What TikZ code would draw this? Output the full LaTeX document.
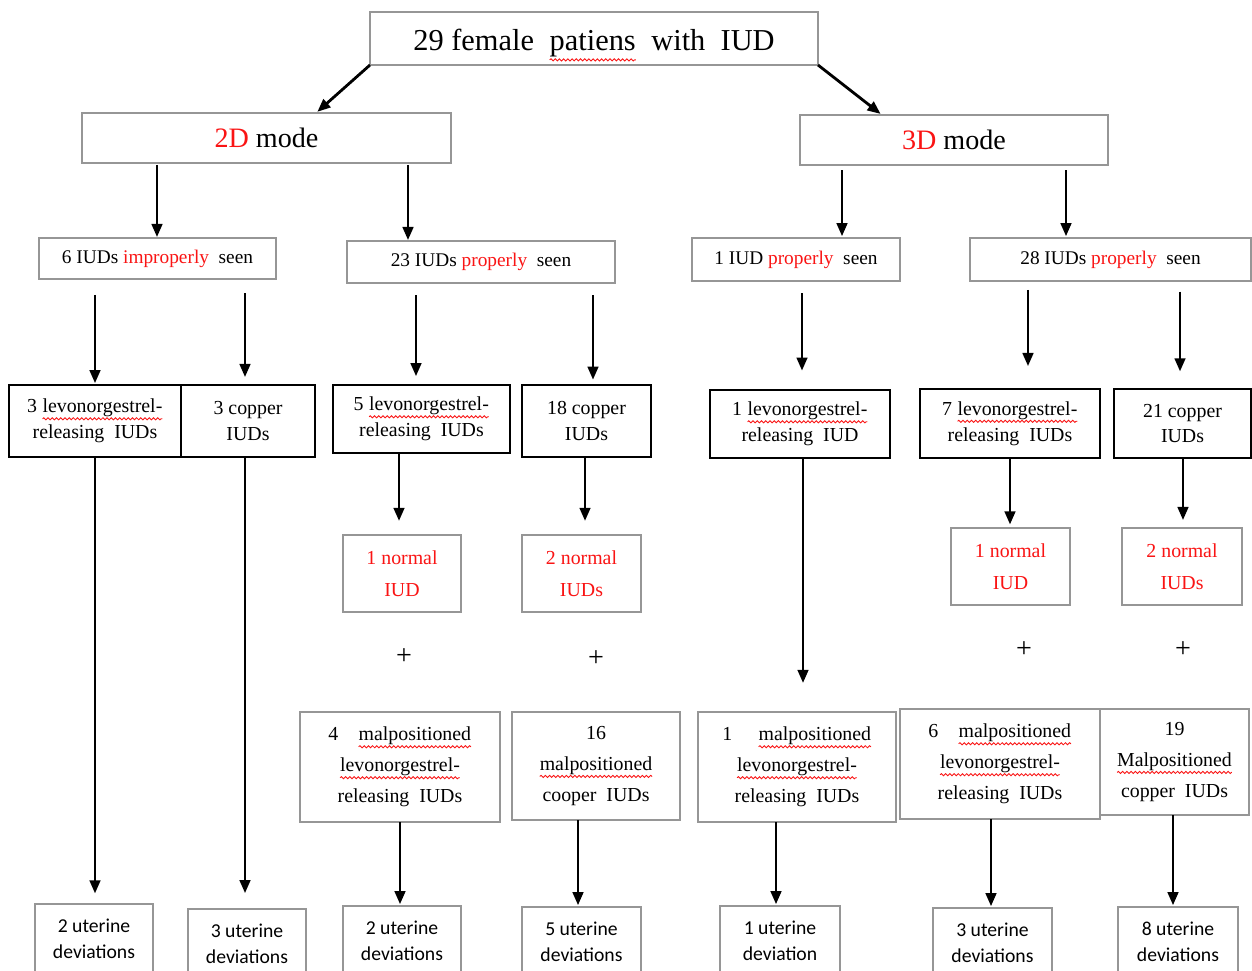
\documentclass[tikz,border=0pt]{standalone}
\usepackage{fontspec}
\setmainfont{Liberation Serif}
\newfontfamily\calfont{Carlito}
\usetikzlibrary{arrows.meta,decorations.pathmorphing}
\definecolor{bgray}{RGB}{150,150,150}
\definecolor{rd}{RGB}{250,20,20}
\newcommand\sq[1]{\tikz[baseline=(sqw.base)]{\node[inner sep=0pt,outer sep=0pt,draw=none,minimum size=0pt](sqw){#1};\draw[rd,line width=0.5pt,decorate,decoration={snake,amplitude=0.6pt,segment length=2.4pt}]([yshift=-0.3em]sqw.base west)--([yshift=-0.3em]sqw.base east);}}
\newcommand\bx[7]{\node[#6, minimum width={(#4-#2)*0.02cm}, minimum height={(#5-#3)*0.02cm}] (#1) at ({(#2+#4)/2},{(#3+#5)/2}) {#7};}
\newcommand\varr[5]{\coordinate (v#1#2) at (#3,0); \draw[arr,shorten <=#4,shorten >=#5] (#1.south -| v#1#2) -- (#2.north -| v#1#2);}
\begin{document}
\begin{tikzpicture}[x=0.02cm,y=-0.02cm,
  thinbox/.style={draw=bgray,line width=0.9pt,fill=white,inner sep=0pt,outer sep=0pt,align=center},
  thickbox/.style={draw=black,line width=1.4pt,fill=white,inner sep=0pt,outer sep=0pt,align=center},
  r2/.style={thinbox,font=\fontsize{11}{13}\selectfont},
  r3/.style={thickbox,font=\fontsize{11.3}{14.7}\selectfont},
  nrm/.style={thinbox,text=rd,font=\fontsize{11.3}{18}\selectfont},
  mal/.style={thinbox,font=\fontsize{11.3}{17.6}\selectfont},
  dev/.style={thinbox,font=\calfont\fontsize{11.2}{14.7}\selectfont},
  plus/.style={inner sep=0pt,font=\fontsize{16}{18}\selectfont},
  arr/.style={-{Triangle[width=6pt,length=7.5pt]},line width=1.6pt,black}]
\useasboundingbox (0,0) rectangle (1252,971);
\clip (0,0) rectangle (1252,971);
\fill[white] (0,0) rectangle (1252,971);
% top
\bx{top}{370}{12}{818}{65}{thinbox,font=\fontsize{17.3}{20}\selectfont,text height=0.62cm,text depth=0.13cm}{29 female\ \ \sq{patiens}\ \ with\ \ IUD}
\bx{m2}{82}{113}{451}{163}{thinbox,font=\fontsize{16}{19}\selectfont}{\textcolor{rd}{2D} mode}
\bx{m3}{800}{115}{1108}{165}{thinbox,font=\fontsize{16}{19}\selectfont}{\textcolor{rd}{3D} mode}
% row 2
\bx{r2a}{39}{238}{276}{279}{r2}{6 IUDs \textcolor{rd}{improperly}\ \ seen}
\bx{r2b}{347}{241}{615}{283}{r2}{23 IUDs \textcolor{rd}{properly}\ \ seen}
\bx{r3a}{692}{238}{900}{281}{r2}{1 IUD \textcolor{rd}{properly}\ \ seen}
\bx{r3b}{970}{238}{1251}{281}{r2}{28 IUDs \textcolor{rd}{properly}\ \ seen}
% row 3
\bx{l3a}{9}{385}{181}{457}{r3}{3 \sq{levonorgestrel-}\\releasing\ \ IUDs}
\bx{l3b}{181}{385}{315}{457}{r3}{3 copper\\IUDs}
\bx{l3c}{333}{385}{510}{453}{r3}{5 \sq{levonorgestrel-}\\releasing\ \ IUDs}
\bx{l3d}{522}{385}{651}{457}{r3}{18 copper\\IUDs}
\bx{l3e}{710}{390}{890}{458}{r3}{1 \sq{levonorgestrel-}\\releasing\ \ IUD}
\bx{l3f}{920}{389}{1100}{458}{r3}{7 \sq{levonorgestrel-}\\releasing\ \ IUDs}
\bx{l3g}{1114}{389}{1251}{458}{r3}{21 copper\\IUDs}
% normal
\bx{n1}{343}{535}{461}{612}{nrm}{1 normal\\IUD}
\bx{n2}{522}{535}{641}{612}{nrm}{2 normal\\IUDs}
\bx{n3}{951}{528}{1070}{605}{nrm}{1 normal\\IUD}
\bx{n4}{1122}{528}{1242}{605}{nrm}{2 normal\\IUDs}
% plus
\node[plus] (p1) at (404,657) {+};
\node[plus] (p2) at (596,659) {+};
\node[plus] (p3) at (1024,650) {+};
\node[plus] (p4) at (1183,650) {+};
% malpositioned
\bx{k1}{300}{712}{500}{822}{mal}{4\hspace{1em}\sq{malpositioned}\\\sq{levonorgestrel-}\\releasing\ \ IUDs}
\bx{k2}{512}{712}{680}{820}{mal}{16\\\sq{malpositioned}\\cooper\ \ IUDs}
\bx{k3}{698}{712}{896}{822}{mal}{1\hspace{1.3em}\sq{malpositioned}\\\sq{levonorgestrel-}\\releasing\ \ IUDs}
\bx{k4}{900}{709}{1100}{819}{mal}{6\hspace{1em}\sq{malpositioned}\\\sq{levonorgestrel-}\\releasing\ \ IUDs}
\bx{k5}{1100}{709}{1249}{815}{mal}{19\\\sq{Malpositioned}\\copper\ \ IUDs}
% bottom
\bx{b1}{35}{904}{153}{974}{dev}{2 uterine\\deviations}
\bx{b2}{188}{909}{306}{979}{dev}{3 uterine\\deviations}
\bx{b3}{343}{906}{461}{976}{dev}{2 uterine\\deviations}
\bx{b4}{522}{907}{641}{977}{dev}{5 uterine\\deviations}
\bx{b5}{720}{906}{840}{976}{dev}{1 uterine\\deviation}
\bx{b6}{933}{908}{1052}{978}{dev}{3 uterine\\deviations}
\bx{b7}{1118}{907}{1238}{977}{dev}{8 uterine\\deviations}
% arrows
\draw[arr,shorten >=1pt] (top.south west) -- ([xshift=0.99cm]m2.north);
\draw[arr,shorten >=1pt] (top.south east) -- ([xshift=-1.44cm]m3.north);
\varr{m2}{r2a}{157}{1pt}{0.5pt}
\varr{m2}{r2b}{408}{1pt}{0.5pt}
\varr{m3}{r3a}{842}{3pt}{1pt}
\varr{m3}{r3b}{1066}{3pt}{1pt}
\varr{r2a}{l3a}{95}{9pt}{1pt}
\varr{r2a}{l3b}{245}{8pt}{4.5pt}
\varr{r2b}{l3c}{416}{7pt}{5pt}
\varr{r2b}{l3d}{593}{7pt}{3pt}
\varr{r3a}{l3e}{802}{7pt}{11pt}
\varr{r3b}{l3f}{1028}{5pt}{13pt}
\varr{r3b}{l3g}{1180}{6pt}{10pt}
\varr{l3a}{b1}{95}{0pt}{6pt}
\varr{l3b}{b2}{245}{0pt}{9pt}
\varr{l3c}{n1}{399}{0pt}{8pt}
\varr{l3d}{n2}{585}{0pt}{8pt}
\varr{l3e}{k3}{803}{0pt}{16.5pt}
\varr{l3f}{n3}{1010}{0pt}{2pt}
\varr{l3g}{n4}{1183}{0pt}{4.5pt}
\varr{k1}{b3}{400}{0pt}{1pt}
\varr{k2}{b4}{578}{0pt}{1pt}
\varr{k3}{b5}{776}{0pt}{1pt}
\varr{k4}{b6}{991}{0pt}{1pt}
\varr{k5}{b7}{1173}{0pt}{1pt}
\end{tikzpicture}
\end{document}
